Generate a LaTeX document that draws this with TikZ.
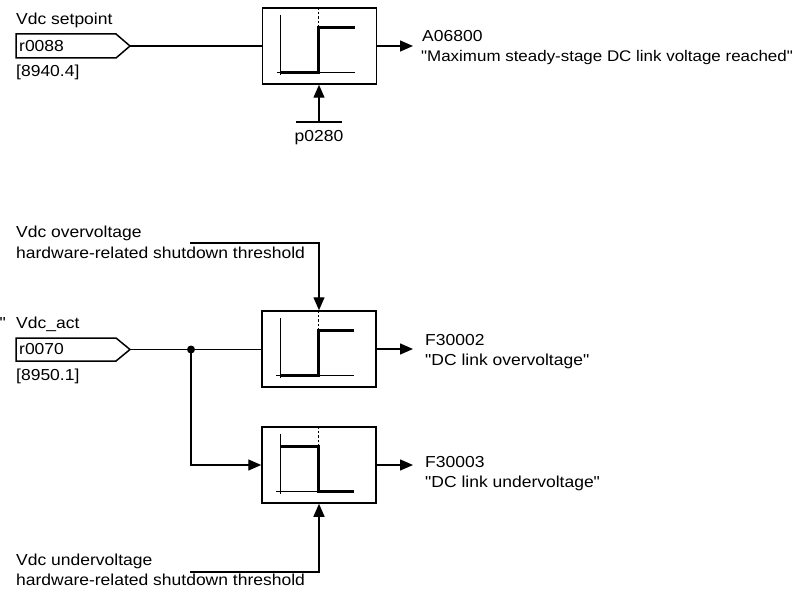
\documentclass[tikz,border=0pt]{standalone}
\usepackage{fontspec}
\setmainfont[FakeStretch=1.1, Ligatures=TeXOff]{Liberation Sans}
\usetikzlibrary{arrows.meta}
\begin{document}
\begin{tikzpicture}[x=1bp,y=-1bp,
  every node/.style={font=\fontsize{15.9bp}{20bp}\selectfont, inner sep=0pt},
  txt/.style={anchor=base west},
  conn/.style={line width=1.4bp},
  arr/.style={conn, -{Triangle[length=13bp,width=11bp]}},
  blk/.style={draw, line width=1.5bp, minimum width=114bp, minimum height=76bp},
  axis/.style={line width=1.3bp},
  curve/.style={line width=3bp},
  dsh/.style={line width=1.2bp, dash pattern=on 2.5bp off 2bp},
  tagbox/.style={line width=1.5bp, line join=miter},
  dot/.style={circle, fill, minimum size=8bp}
]
\useasboundingbox (0,0) rectangle (803,592);

% ---------- top: Vdc setpoint ----------
\node[txt] (lsp) at (16,25) {Vdc setpoint};
\draw[tagbox] (16,34) -- (116,34) -- (130,46) -- (116,58) -- (16,58) -- cycle;
\node[anchor=west] (r88) at (19,46) {r0088};
\coordinate (t1) at (130,46);
\node[txt] (ref1) at (16,77) {[8940.4]};

\node[blk] (b1) at (319.5,46) {};
\begin{scope}[shift={(b1.north west)}]
  \draw[axis] (19,8) -- (19,68);
  \draw[axis] (15,65) -- (93,65);
  \draw[curve] (19,65) -- (57,65) -- (57,20) -- (93,20);
  \draw[dsh] (57,0) -- (57,20);
\end{scope}
\draw[conn] (t1) -- (b1.west |- t1);
\coordinate (o1) at (413,46);
\draw[arr] (b1.east) -- (o1);
\node[txt] (a68) at (422,42) {A06800};
\node[txt, font=\fontsize{15.4bp}{20bp}\selectfont] (a68t) at (421,62) {"Maximum steady-stage DC link voltage reached"};

\coordinate (p1) at (319,122);
\draw[conn] (296,122) -- (342,122);
\draw[arr] (p1) -- (b1.south -| p1);
\node[anchor=base] (p280) at (319,142) {p0280};

% ---------- bottom: Vdc_act ----------
\node[anchor=base east] (q) at (6,328) {"};
\node[txt] (lact) at (16,328) {Vdc\_act};
\draw[tagbox] (16,338) -- (116,338) -- (130,349.5) -- (116,361) -- (16,361) -- cycle;
\node[anchor=west] (r70) at (19,349.5) {r0070};
\coordinate (t2) at (130,349.5);
\node[txt] (ref2) at (16,380) {[8950.1]};

\node[blk] (b2) at (319,349) {};
\begin{scope}[shift={(b2.north west)}]
  \draw[axis] (19,8) -- (19,68);
  \draw[axis] (15,65) -- (93,65);
  \draw[curve] (19,65) -- (57,65) -- (57,20) -- (93,20);
  \draw[dsh] (57,0) -- (57,20);
\end{scope}

\node[blk] (b3) at (319,465) {};
\begin{scope}[shift={(b3.north west)}]
  \draw[axis] (19,8) -- (19,68);
  \draw[axis] (15,65) -- (93,65);
  \draw[curve] (19,20) -- (57,20) -- (57,65) -- (93,65);
  \draw[dsh] (57,0) -- (57,20);
\end{scope}

\node[dot] (d) at (191,349.5) {};
\draw[conn] (t2) -- (b2.west |- t2);
\draw[arr] (d.center) |- (b3.west);

\coordinate (o2) at (413,349);
\draw[arr] (b2.east) -- (o2);
\node[txt] (f2) at (425,345) {F30002};
\node[txt] (f2t) at (425,365) {"DC link overvoltage"};

\coordinate (o3) at (413,465);
\draw[arr] (b3.east) -- (o3);
\node[txt] (f3) at (425,467) {F30003};
\node[txt] (f3t) at (425,487) {"DC link undervoltage"};

% thresholds
\node[txt] (ov1) at (16,238) {Vdc overvoltage};
\node[txt] (ov2) at (16,258) {hardware-related shutdown threshold};
\coordinate (ovs) at (190,243);
\draw[arr] (ovs) -| (b2.north);

\node[txt] (uv1) at (16,565) {Vdc undervoltage};
\node[txt] (uv2) at (16,585) {hardware-related shutdown threshold};
\coordinate (uvs) at (190,572);
\draw[arr] (uvs) -| (b3.south);
\end{tikzpicture}
\end{document}
